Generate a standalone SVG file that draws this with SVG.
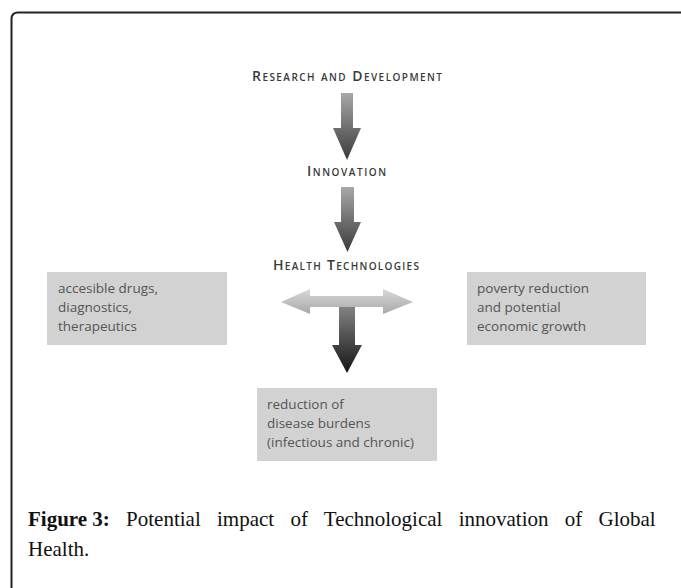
<svg xmlns="http://www.w3.org/2000/svg" width="681" height="588" viewBox="0 0 681 588">
<defs>
<linearGradient id="gDown" x1="0" y1="0" x2="0" y2="1">
<stop offset="0" stop-color="#a8a8a8"/>
<stop offset="1" stop-color="#3a3a3a"/>
</linearGradient>
<linearGradient id="gH" x1="0" y1="0" x2="0" y2="1">
<stop offset="0" stop-color="#d8d8d8"/>
<stop offset="1" stop-color="#a8a8a8"/>
</linearGradient>
<linearGradient id="gV" x1="0" y1="0" x2="0" y2="1">
<stop offset="0" stop-color="#8a8a8a"/>
<stop offset="1" stop-color="#151515"/>
</linearGradient>
<style>
.hd{font-family:"Open Sans","Liberation Sans",sans-serif;font-size:14px;font-weight:600;font-variant:small-caps;fill:#3a3a3a;}
.bx{fill:#d2d2d2;}
.bt{font-family:"Open Sans","Liberation Sans",sans-serif;font-size:13.5px;fill:#555;}
.cap{font-family:"Liberation Serif","Times New Roman",serif;font-size:21px;fill:#111;}
</style>
</defs>
<rect width="681" height="588" fill="#fff"/>
<path d="M11.5,588 V19 Q11.5,12.5 18,12.5 H681" fill="none" stroke="#222" stroke-width="2"/>

<g id="rd"><text class="hd" x="252" y="81" textLength="190" lengthAdjust="spacing">Research and Development</text></g>
<g id="innovation"><text class="hd" x="307" y="176" textLength="79" lengthAdjust="spacing">Innovation</text></g>
<g id="health-tech"><text class="hd" x="273" y="270" textLength="146" lengthAdjust="spacing">Health Technologies</text></g>

<g id="connectors">
<path d="M341,93 H353 V128 H361 L347,160 L333,128 H341 Z" fill="url(#gDown)"/>
<path d="M341,187 H354 V222 H361 L347.5,252 L334,222 H341 Z" fill="url(#gDown)"/>
<path d="M339,302 H355 V345 H362 L347,373 L332,345 H339 Z" fill="url(#gV)"/>
<path d="M281,302 L310,289 V296 H383 V289 L413,302 L383,314 V307 H310 V314 Z" fill="url(#gH)"/>
</g>

<g id="box-left">
<rect class="bx" x="47" y="272" width="180" height="73"/>
<text class="bt" x="58" y="293">accesible drugs,</text>
<text class="bt" x="58" y="312">diagnostics,</text>
<text class="bt" x="58" y="331">therapeutics</text>
</g>
<g id="box-right">
<rect class="bx" x="467" y="272" width="179" height="73"/>
<text class="bt" x="477" y="293">poverty reduction</text>
<text class="bt" x="477" y="312">and potential</text>
<text class="bt" x="477" y="331">economic growth</text>
</g>
<g id="box-bottom">
<rect class="bx" x="257" y="388" width="180" height="73"/>
<text class="bt" x="267" y="409">reduction of</text>
<text class="bt" x="267" y="428">disease burdens</text>
<text class="bt" x="267" y="447">(infectious and chronic)</text>
</g>

<g id="caption">
<text class="cap" x="28" y="526" word-spacing="11"><tspan font-weight="bold" word-spacing="0">Figure 3:</tspan> Potential impact of Technological innovation of Global</text>
<text class="cap" x="28" y="556">Health.</text>
</g>
</svg>
